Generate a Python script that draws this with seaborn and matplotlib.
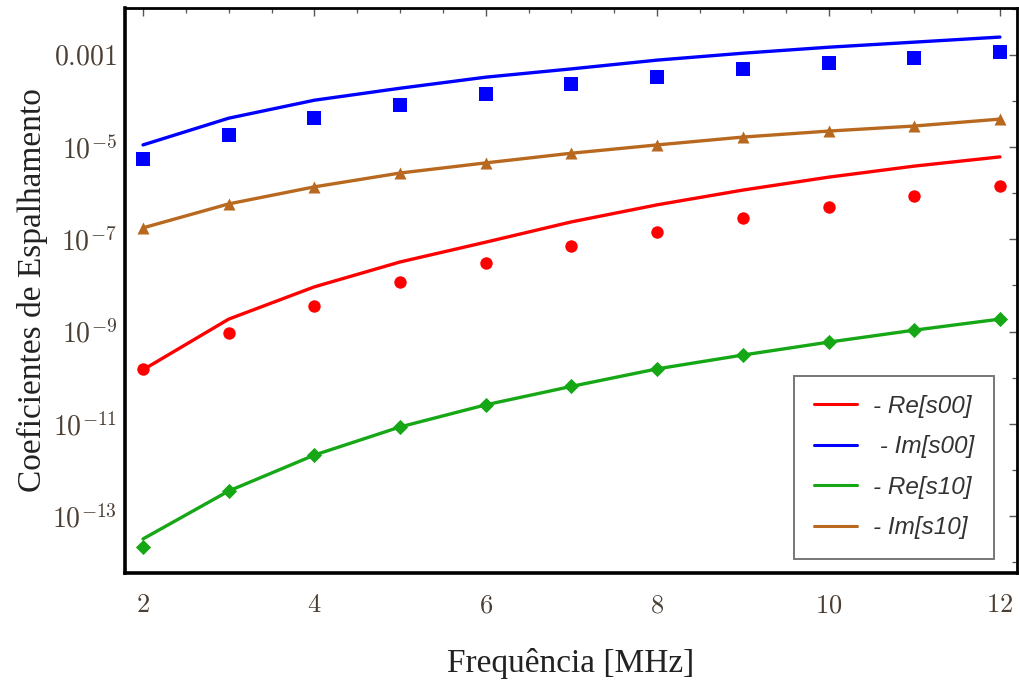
import numpy as np
import pandas as pd
import matplotlib
matplotlib.use("Agg")
import matplotlib.pyplot as plt
import seaborn as sns
from matplotlib.ticker import FixedLocator, FixedFormatter, MultipleLocator

# ---------------- data ----------------
freq = [2, 3, 4, 5, 6, 7, 8, 9, 10, 11, 12]

# log10 values of the curves (solid lines)
re_s00_line = [-9.83, -8.73, -8.03, -7.49, -7.06, -6.62, -6.25, -5.93, -5.65, -5.41, -5.21]
im_s00_line = [-4.95, -4.37, -3.98, -3.72, -3.48, -3.30, -3.11, -2.96, -2.83, -2.72, -2.61]
re_s10_line = [-13.50, -12.46, -11.68, -11.07, -10.59, -10.19, -9.81, -9.51, -9.23, -8.97, -8.73]
im_s10_line = [-6.75, -6.23, -5.86, -5.56, -5.34, -5.13, -4.95, -4.78, -4.65, -4.54, -4.39]

# log10 values of the markers (points)
re_s00_pts = [-9.82, -9.03, -8.44, -7.92, -7.51, -7.15, -6.84, -6.54, -6.30, -6.06, -5.84]
im_s00_pts = [-5.26, -4.74, -4.37, -4.09, -3.85, -3.63, -3.48, -3.30, -3.17, -3.07, -2.94]
re_s10_pts = [-13.67, -12.46, -11.68, -11.07, -10.59, -10.19, -9.81, -9.51, -9.23, -8.97, -8.73]
im_s10_pts = [-6.75, -6.23, -5.86, -5.56, -5.34, -5.13, -4.95, -4.78, -4.65, -4.54, -4.39]

labels = ["- Re[s00]", " - Im[s00]", "- Re[s10]", "- Im[s10]"]
colors = ["#ff0000", "#0000ff", "#16a716", "#b8691f"]
markers = ["o", "s", "D", "^"]

y_major = [1e-13, 1e-11, 1e-9, 1e-7, 1e-5, 1e-3]
y_major_labels = ["$10^{-13}$", "$10^{-11}$", "$10^{-9}$", "$10^{-7}$", "$10^{-5}$", "$0.001$"]
y_minor = [1e-14, 1e-12, 1e-10, 1e-8, 1e-6, 1e-4, 1e-2]
x_major = [2, 4, 6, 8, 10, 12]

xlabel = "Frequência [MHz]"
ylabel = "Coeficientes de Espalhamento"

# ---------------- plotting ----------------
sns.set_theme(style="white")
plt.rcParams["mathtext.fontset"] = "cm"
plt.rcParams["font.family"] = ["Liberation Serif", "DejaVu Serif"]

fig = plt.figure(figsize=(10.19, 6.82), dpi=100)
ax = fig.add_axes([0.1227, 0.1598, 0.8754, 0.8284])
ax.set_yscale("log")

line_sets = [re_s00_line, im_s00_line, re_s10_line, im_s10_line]
pt_sets = [re_s00_pts, im_s00_pts, re_s10_pts, im_s10_pts]
msizes = [80, 95, 60, 75]

for lab, col, mk, ln, pt, ms in zip(labels, colors, markers, line_sets, pt_sets, msizes):
    dl = pd.DataFrame({"f": freq, "v": np.power(10.0, ln)})
    dp = pd.DataFrame({"f": freq, "v": np.power(10.0, pt)})
    sns.lineplot(data=dl, x="f", y="v", color=col, linewidth=2.4, label=lab, ax=ax,
                 zorder=2)
    sns.scatterplot(data=dp, x="f", y="v", color=col, marker=mk, s=ms, linewidth=0,
                    legend=False, ax=ax, zorder=3)

ax.set_xlim(1.79, 12.2)
ax.set_ylim(10 ** -14.24, 10 ** -1.98)

ax.yaxis.set_major_locator(FixedLocator(y_major))
ax.yaxis.set_major_formatter(FixedFormatter(y_major_labels))
ax.yaxis.set_minor_locator(FixedLocator(y_minor))
ax.yaxis.set_minor_formatter(FixedFormatter([""] * len(y_minor)))
ax.xaxis.set_major_locator(FixedLocator(x_major))
ax.xaxis.set_major_formatter(FixedFormatter([f"${v}$" for v in x_major]))
ax.xaxis.set_minor_locator(MultipleLocator(0.5))

tick_col = "#4b3f33"
ax.tick_params(axis="both", which="both", direction="in", top=True, right=True,
               color="#555555")
ax.tick_params(axis="both", which="major", length=6, width=1.0)
ax.tick_params(axis="both", which="minor", length=3.5, width=0.9)
ax.tick_params(axis="y", which="major", labelsize=20, pad=6, labelcolor=tick_col)
ax.tick_params(axis="x", which="major", labelsize=19, pad=16, labelcolor=tick_col)

for side in ["left", "bottom", "top", "right"]:
    ax.spines[side].set_visible(True)
    ax.spines[side].set_color("black")
    ax.spines[side].set_linewidth(2.6 if side in ("left", "bottom") else 2.0)

ax.set_xlabel(xlabel, fontsize=24, color="#222222", labelpad=22)
ax.set_ylabel(ylabel, fontsize=24, color="#222222", labelpad=3)

leg = ax.legend(loc="lower right", bbox_to_anchor=(0.974, 0.025), borderaxespad=0,
                frameon=True, fancybox=False, handlelength=1.8, handletextpad=0.65,
                labelspacing=0.72, borderpad=0.8,
                prop={"family": "Liberation Sans", "style": "italic", "size": 17.5})
leg.get_frame().set_edgecolor("#555555")
leg.get_frame().set_linewidth(1.4)
for t in leg.get_texts():
    t.set_color("#333333")
for h in leg.get_lines():
    h.set_linewidth(2.2)

fig.savefig("out.png", dpi=100)
